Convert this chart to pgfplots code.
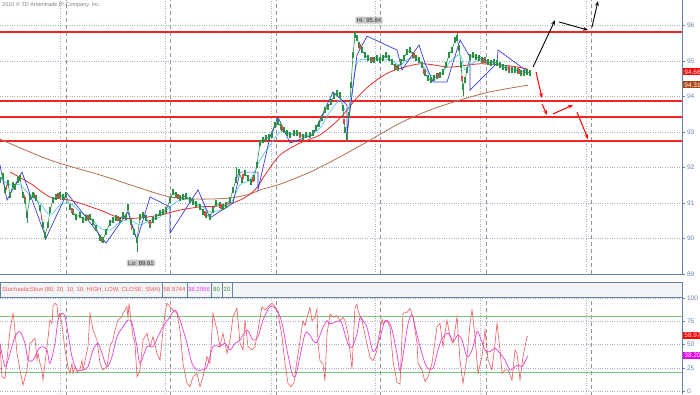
\documentclass[border=0pt]{standalone}
\usepackage{fontspec}
\setmainfont{Liberation Sans}
\usepackage{pgfplots}
\pgfplotsset{compat=1.18}
\usetikzlibrary{arrows.meta}
\definecolor{steel}{RGB}{100,130,170}
\definecolor{gridc}{RGB}{165,180,198}
\definecolor{dashc}{RGB}{150,150,150}
\definecolor{cgreen}{RGB}{40,145,70}
\definecolor{cred}{RGB}{225,70,70}
\definecolor{mablue}{RGB}{60,60,215}
\definecolor{macyan}{RGB}{90,200,230}
\definecolor{mared}{RGB}{230,45,45}
\definecolor{mabrown}{RGB}{180,110,80}
\definecolor{srline}{RGB}{235,40,40}
\definecolor{stred}{RGB}{238,90,90}
\definecolor{stmag}{RGB}{230,60,230}
\definecolor{stgreen}{RGB}{120,200,120}
\definecolor{dgreen}{RGB}{60,150,60}
\definecolor{hdr}{RGB}{243,244,246}
\definecolor{lbl}{RGB}{200,200,200}
\pgfplotsset{
  panel/.style={
    scale only axis, width=682pt, xmin=0, xmax=682,
    axis line style={draw=none},
    xtick=\empty,
    ymajorgrids,
    major y grid style={gridc, dotted},
    ytick style={steel},
    tick align=outside, major tick length=2.5pt,
    ytick pos=right, yticklabel pos=right,
    yticklabel style={font=\fontsize{6.5}{7}\selectfont, text=steel, xshift=-1pt},
    /pgf/number format/assume math mode=true,
    clip=true,
  },
  vdot/.style={gridc, dotted, line width=0.5pt, unbounded coords=jump},
  vdash/.style={dashc, dash pattern=on 4pt off 3pt, line width=0.5pt, unbounded coords=jump},
}
\begin{document}
\begin{tikzpicture}
\useasboundingbox (0pt,0pt) rectangle (700pt,394pt);
% ---------------- main price panel ----------------
\begin{axis}[panel, at={(0pt,120pt)}, anchor=south west, height=274pt,
  ymin=89, ymax=96.718, ytick={89,90,91,92,93,94,95,96}]
% vertical grid
\addplot[vdot] coordinates {(60,89) (60,97) (nan,nan) (165,89) (165,97) (nan,nan) (271,89) (271,97)
 (nan,nan) (375,89) (375,97) (nan,nan) (480,89) (480,97) (nan,nan) (586,89) (586,97)};
\addplot[vdash] coordinates {(66,89) (66,97) (nan,nan) (170,89) (170,97) (nan,nan) (276,89) (276,97)
 (nan,nan) (380,89) (380,97) (nan,nan) (486,89) (486,97) (nan,nan) (591,89) (591,97)};
% support / resistance lines
\addplot[draw=srline, line width=1.8pt, unbounded coords=jump] coordinates {
 (0,95.817) (682,95.817) (nan,nan) (0,93.873) (682,93.873) (nan,nan) (0,93.422) (682,93.422) (nan,nan) (0,92.746) (682,92.746)};
% long MA (brown)
\addplot[mabrown, line width=0.8pt, smooth] coordinates {
(0,92.80) (50,92.21) (100,91.79) (140,91.42) (170,91.17) (200,91.11) (230,91.14)
(250,91.25) (260,91.37) (280,91.53) (310,91.87) (340,92.30) (370,92.77) (400,93.25)
(430,93.62) (460,93.90) (490,94.13) (528,94.32)};
% medium MA (red)
\addplot[mared, line width=0.8pt, smooth] coordinates {
(10,91.87) (30,91.56) (50,91.17) (70,91.08) (100,90.80) (120,90.58) (140,90.58)
(160,90.66) (180,90.80) (200,90.89) (220,90.92) (240,91.08) (255,91.37) (265,91.79)
(280,92.35) (300,92.69) (320,92.92) (340,93.39) (355,93.90) (370,94.32) (390,94.69)
(420,94.92) (450,94.83) (480,94.92) (510,94.86) (528,94.77)};
% candles (close path with range ticks)
\addplot[cgreen, line width=0.6pt, mark=|, mark size=3pt, mark options={line width=1.2pt}] coordinates {
(0,91.65) (3,91.76) (5,91.37) (8,91.56) (10,91.22) (13,91.51) (15,91.45) (18,91.65)
(20,91.70) (23,91.22) (25,91.08) (27,90.66) (30,91.17) (33,91.22) (36,91.14) (40,90.86)
(43,90.38) (45,90.10) (48,90.38) (50,90.80) (53,91.08) (56,91.17) (60,91.22) (63,91.17)
(66,91.22) (70,90.89) (73,90.75) (76,90.61) (80,90.66) (83,90.52) (86,90.58) (90,90.61)
(93,90.46) (96,90.30) (100,90.01) (103,89.96) (106,90.18) (110,90.44) (113,90.52) (116,90.58)
(120,90.52) (123,90.66) (126,90.61) (128,90.89) (131,90.46) (134,90.18) (137,89.96) (140,90.61)
(143,90.66) (146,90.58) (150,90.38) (153,90.52) (156,90.61) (160,90.72) (163,90.75) (166,90.80)
(170,91.08) (173,91.31) (176,91.22) (180,91.14) (183,91.17) (186,91.20) (190,91.08) (193,91.03)
(196,90.97) (200,90.89) (203,90.75) (206,90.66) (210,90.61) (213,90.80) (216,91.00) (220,90.94)
(223,90.89) (226,90.94) (230,91.08) (233,91.37) (236,91.65) (239,91.87) (242,91.65) (245,91.85)
(248,91.70) (251,91.59) (254,91.70) (257,92.07) (260,92.69) (263,92.77) (266,92.83) (269,92.86)
(272,92.92) (275,93.20) (278,93.28) (281,93.14) (284,93.06) (287,92.97) (290,92.92) (294,92.97)
(297,92.97) (300,92.92) (303,92.86) (306,92.92) (310,92.92) (313,92.97) (316,93.11) (319,93.23)
(322,93.39) (325,93.62) (328,93.70) (331,93.84) (334,94.01) (337,94.10) (340,94.04) (343,93.68)
(345,93.06) (347,92.86) (349,93.48) (351,94.32) (353,95.17) (355,95.73) (357,95.65) (359,95.45)
(362,95.31) (365,95.17) (368,95.08) (371,95.03) (374,95.03) (377,95.08) (380,95.03) (383,95.08)
(386,95.17) (389,95.08) (392,94.97) (395,94.83) (398,94.80) (401,94.97) (404,95.08) (407,95.25)
(410,95.31) (413,95.17) (416,95.08) (419,95.03) (422,94.89) (425,94.66) (428,94.52) (431,94.46)
(434,94.52) (437,94.58) (440,94.61) (443,94.69) (446,94.89) (449,95.17) (452,95.31) (455,95.59)
(457,95.65) (459,95.37) (461,94.89) (463,94.27) (465,94.46) (467,94.75) (470,95.11) (473,95.17)
(476,95.11) (479,95.08) (482,95.03) (485,95.03) (488,94.97) (491,94.94) (494,94.97) (497,94.94)
(500,94.89) (503,94.83) (506,94.80) (509,94.75) (512,94.75) (515,94.75) (518,94.72) (521,94.66)
(524,94.66) (527,94.69) (530,94.66)};
% red (down) candles
\addplot[cred, only marks, mark=|, mark size=2.5pt, mark options={line width=1.1pt}] coordinates {
(6.5,91.45) (24.5,91.15) (34.5,91.2) (41.5,90.6) (58,91.2) (72,90.8) (88,90.6) (101.5,89.98) (118,90.55)
(131.5,90.3) (150,90.45) (178,91.18) (205,90.7) (221,90.9) (243,91.75) (253,91.65) (282,93.1) (300,92.9)
(344,93.3) (360,95.4) (372,95.05) (396,94.82) (414,95.15) (424,94.7) (438,94.6) (462,94.5) (484,95.0)
(509,94.78) (519,94.7)};
% wicks
\addplot[cgreen, line width=0.6pt, unbounded coords=jump] coordinates {
(137,89.96) (137,89.61) (nan,nan) (355,95.73) (355,95.84) (nan,nan) (463,94.27) (463,94.0)
(nan,nan) (347,92.86) (347,92.75) (nan,nan) (27,90.66) (27,90.45) (nan,nan) (45,90.1) (45,89.95)
(nan,nan) (236,91.65) (236,92.0) (nan,nan) (457,95.65) (457,95.8)};
% short EMA (cyan)
\addplot[macyan, line width=0.7pt, smooth] coordinates {
(0,91.70) (10,91.51) (20,91.51) (30,91.22) (40,91.00) (50,90.66) (60,90.94) (70,91.00)
(80,90.75) (90,90.61) (100,90.30) (110,90.24) (120,90.46) (130,90.52) (140,90.38) (150,90.52)
(160,90.61) (170,90.89) (180,91.08) (190,91.08) (200,90.94) (210,90.75) (220,90.80) (230,90.94)
(240,91.51) (250,91.65) (260,92.21) (270,92.63) (280,93.00) (290,92.97) (300,92.92) (310,92.92)
(320,93.11) (330,93.57) (340,93.90) (345,93.62) (350,93.76) (355,94.75) (360,95.03) (370,95.03)
(380,95.03) (390,95.03) (400,94.89) (410,95.08) (420,94.97) (430,94.61) (440,94.61) (450,94.97)
(460,95.17) (465,94.75) (470,94.89) (480,95.03) (490,94.97) (500,94.92) (510,94.80) (520,94.72) (528,94.69)};
% SAR-like (blue)
\addplot[mablue, line width=0.7pt] coordinates {
(0,92.07) (7,91.08) (22,91.87) (46,90.01) (67,91.28) (106,89.87) (128,90.75) (137,89.96)
(150,91.17) (170,90.89) (170,90.15) (198,91.37) (210,90.58) (233,91.00) (240,91.87) (258,91.87)
(258,91.37) (270,92.86) (278,93.42) (290,92.69) (313,92.92) (333,94.13) (347,93.76) (347,92.92)
(357,95.17) (367,95.70) (397,95.31) (402,94.75) (419,95.45) (425,94.94) (433,94.41) (447,94.41)
(460,95.59) (470,95.11) (470,94.18) (497,94.94) (498,95.31) (528,94.69)};
% scenario arrows
\draw[-{Stealth[length=5pt]}, line width=0.9pt] (axis cs:533,94.83) -- (axis cs:555,96.15);
\draw[-{Stealth[length=5pt]}, line width=0.9pt] (axis cs:559,96.10) -- (axis cs:588,95.87);
\draw[-{Stealth[length=5pt]}, line width=0.9pt] (axis cs:592,95.96) -- (axis cs:598,96.69);
\draw[-{Stealth[length=5pt]}, line width=1pt, red] (axis cs:536,94.69) -- (axis cs:542,93.96);
\draw[-{Stealth[length=5pt]}, line width=1pt, red] (axis cs:542,93.79) -- (axis cs:547,93.48);
\draw[-{Stealth[length=5pt]}, line width=1pt, red] (axis cs:553,93.51) -- (axis cs:573,93.76);
\draw[-{Stealth[length=5pt]}, line width=1pt, red] (axis cs:577,93.56) -- (axis cs:588,92.80);
% hi / lo labels
\node[fill=lbl, rounded corners=1pt, inner sep=1.3pt, font=\fontsize{6}{7}\selectfont, text=black!80] at (axis cs:369,96.15) {Hi: 95.84};
\node[fill=lbl, rounded corners=1pt, inner sep=1.3pt, font=\fontsize{6}{7}\selectfont, text=black!80] at (axis cs:141,89.31) {Lo: 89.61};
\end{axis}
% ---------------- stochastic panel ----------------
\begin{axis}[panel, at={(0pt,0pt)}, anchor=south west, height=96pt,
  ymin=-3.2, ymax=100, ytick={0,25,50,75,100}]
\addplot[vdot] coordinates {(60,-5) (60,101) (nan,nan) (165,-5) (165,101) (nan,nan) (271,-5) (271,101)
 (nan,nan) (375,-5) (375,101) (nan,nan) (480,-5) (480,101) (nan,nan) (586,-5) (586,101)};
\addplot[vdash] coordinates {(66,-5) (66,101) (nan,nan) (170,-5) (170,101) (nan,nan) (276,-5) (276,101)
 (nan,nan) (380,-5) (380,101) (nan,nan) (486,-5) (486,101) (nan,nan) (591,-5) (591,101)};
\addplot[stgreen, line width=1.2pt] coordinates {(0,80) (682,80)};
\addplot[stgreen, line width=1.2pt] coordinates {(0,20) (682,20)};
\addplot[stmag, line width=0.7pt, smooth] coordinates {
(0,51.3) (5,26.2) (10,40.5) (15,58.4) (20,63.8) (25,51.3) (28,33.3) (33,33.3) (38,44.1) (42,47.7)
(47,44.1) (50,29.8) (55,51.3) (58,76.3) (62,83.5) (65,79.9) (68,62.0) (72,36.9) (77,22.6) (83,22.6)
(88,26.2) (93,44.1) (98,51.3) (102,40.5) (107,26.2) (112,36.9) (117,58.4) (123,69.2) (128,76.3) (132,72.8)
(137,47.7) (140,29.8) (147,47.7) (153,47.7) (158,58.4) (163,69.2) (170,79.9) (175,87.1) (180,76.3) (187,51.3)
(192,29.8) (197,22.6) (202,22.6) (207,26.2) (213,47.7) (220,47.7) (225,51.3) (230,44.1) (235,51.3) (240,54.8)
(247,65.6) (253,54.8) (258,58.4) (263,76.3) (270,90.7) (277,87.1) (282,72.8) (287,44.1) (292,19.0) (295,15.4)
(297,21.9) (305,61.3) (310,60.0) (313,54.1) (317,52.3) (323,68.5) (327,75.6) (330,72.1) (340,75.6) (343,68.5)
(348,50.5) (352,47.0) (357,61.3) (360,79.2) (363,75.6) (367,68.5) (372,45.2) (375,43.4) (380,57.7) (385,75.6)
(390,72.1) (393,61.3) (397,39.8) (400,21.9) (404,45.0) (408,72.0) (412,82.0) (416,65.0) (420,47.7) (425,29.8)
(428,24.4) (433,24.4) (438,44.1) (442,56.6) (447,62.0) (450,60.2) (453,53.0) (458,60.2) (462,54.8) (467,36.9)
(472,44.1) (477,63.8) (480,58.4) (485,44.1) (490,42.3) (495,45.9) (500,40.5) (505,33.3) (510,22.6) (515,26.2)
(518,28.0) (522,26.2) (525,31.5) (528,38.21)};
\addplot[stred, line width=0.6pt] coordinates {
(0,49.5) (2,15.4) (5,13.6) (8,44.1) (10,65.6) (13,83.5) (14,76.3) (17,40.5) (20,22.6) (23,6.5)
(27,22.6) (30,51.3) (32,53.0) (33,54.8) (35,56.6) (37,33.3) (38,40.5) (40,29.8) (42,22.6) (43,11.8)
(47,47.7) (50,76.3) (52,72.8) (53,90.7) (55,94.3) (57,92.5) (58,79.9) (60,83.5) (62,71.0) (65,44.1)
(68,26.2) (70,19.0) (72,29.8) (73,19.0) (75,26.2) (77,20.8) (80,22.6) (82,33.3) (83,22.6) (88,47.7)
(90,83.5) (93,65.6) (97,54.8) (100,29.8) (103,22.6) (107,26.2) (110,47.7) (113,54.8) (115,65.6) (117,72.8)
(118,76.3) (122,79.9) (123,83.5) (127,90.7) (128,78.1) (129,94.3) (131,76.3) (133,58.4) (135,51.3) (137,15.4)
(140,22.6) (143,54.8) (147,62.0) (150,47.7) (153,58.4) (157,40.5) (160,33.3) (163,65.6) (165,83.5) (167,94.3)
(170,90.7) (173,87.1) (177,83.5) (180,65.6) (183,29.8) (187,8.2) (190,4.7) (193,15.4) (197,19.0) (200,4.7)
(203,15.4) (207,36.9) (210,29.8) (213,83.5) (217,65.6) (220,47.7) (223,62.0) (227,40.5) (230,54.8) (233,79.9)
(237,88.9) (240,51.3) (243,44.1) (245,76.3) (248,47.7) (252,44.1) (255,47.7) (258,65.6) (262,90.7) (265,87.1)
(268,90.7) (272,94.3) (275,90.7) (278,83.5) (282,58.4) (285,29.8) (288,8.2) (291,4.7) (294,9.3) (297,32.6)
(300,54.1) (303,75.6) (305,70.3) (308,82.8) (310,90.0) (312,75.6) (315,79.2) (317,88.2) (318,50.5) (320,32.6)
(323,29.0) (325,11.1) (327,61.3) (330,82.8) (333,79.2) (337,81.0) (340,75.6) (343,79.2) (345,75.6) (348,61.3)
(352,23.7) (355,90.0) (357,93.5) (358,86.4) (362,75.6) (367,50.5) (370,36.2) (373,32.6) (377,43.4) (378,54.1)
(382,77.4) (383,72.1) (387,75.6) (390,68.5) (393,32.6) (397,9.3) (400,7.5) (403,83.5) (407,84.6) (410,88.9)
(413,79.9) (417,51.3) (418,29.8) (422,22.6) (425,10.0) (428,15.4) (432,29.8) (437,69.2) (440,72.8) (443,47.7)
(447,76.3) (450,58.4) (453,51.3) (457,79.9) (460,33.3) (463,8.2) (467,36.9) (470,72.8) (472,87.1) (475,58.4)
(478,19.0) (482,36.9) (485,65.6) (488,33.3) (492,22.6) (495,51.3) (497,72.8) (500,44.1) (502,19.0) (505,22.6)
(508,22.6) (512,11.8) (515,44.1) (517,40.5) (520,11.8) (523,36.9) (527,58.4) (528,58.97)};
\end{axis}
% ---------------- frame, header, labels ----------------
\draw[steel, line width=0.6pt] (682pt,120pt) -- (682pt,394pt);
\draw[steel, line width=0.6pt] (682pt,0pt) -- (682pt,96pt);
\draw[steel, line width=0.6pt] (0pt,120pt) -- (682pt,120pt);
\draw[steel, line width=0.6pt, fill=hdr] (0pt,97pt) rectangle (682pt,112pt);
\foreach \sx in {162,187,211,222,232} {\draw[steel, line width=0.5pt] (\sx pt,97pt) -- (\sx pt,112pt);}
\node[anchor=west, inner sep=0pt, text=stred, font=\fontsize{6}{7}\selectfont] at (2pt,104.5pt) {StochasticSlow (80, 20, 10, 10, HIGH, LOW, CLOSE, SMA)};
\node[inner sep=0pt, text=stred, font=\fontsize{6}{7}\selectfont] at (174.5pt,104.5pt) {58.9744};
\node[inner sep=0pt, text=stmag, font=\fontsize{6}{7}\selectfont] at (199pt,104.5pt) {38.2066};
\node[inner sep=0pt, text=dgreen, font=\fontsize{6}{7}\selectfont] at (216.5pt,104.5pt) {80};
\node[inner sep=0pt, text=dgreen, font=\fontsize{6}{7}\selectfont] at (227pt,104.5pt) {20};
\node[anchor=north west, inner sep=0pt, text=gray, font=\fontsize{5.5}{6}\selectfont] at (2pt,392pt) {2010 © TD Ameritrade IP Company, Inc.};
\node[anchor=west, fill=red, text=white, inner sep=1.2pt, font=\fontsize{6.5}{7}\selectfont] at (683pt,322pt) {94.66};
\node[anchor=west, fill={rgb,255:red,170;green,70;blue,20}, text=white, inner sep=1.2pt, font=\fontsize{6.5}{7}\selectfont] at (683pt,309pt) {94.31};
\node[anchor=west, fill=red, text=white, inner sep=1.2pt, font=\fontsize{6.5}{7}\selectfont] at (683pt,59pt) {58.97};
\node[anchor=west, fill={rgb,255:red,230;green,0;blue,230}, text=white, inner sep=1.2pt, font=\fontsize{6.5}{7}\selectfont] at (683pt,39pt) {38.20};
\end{tikzpicture}
\end{document}
